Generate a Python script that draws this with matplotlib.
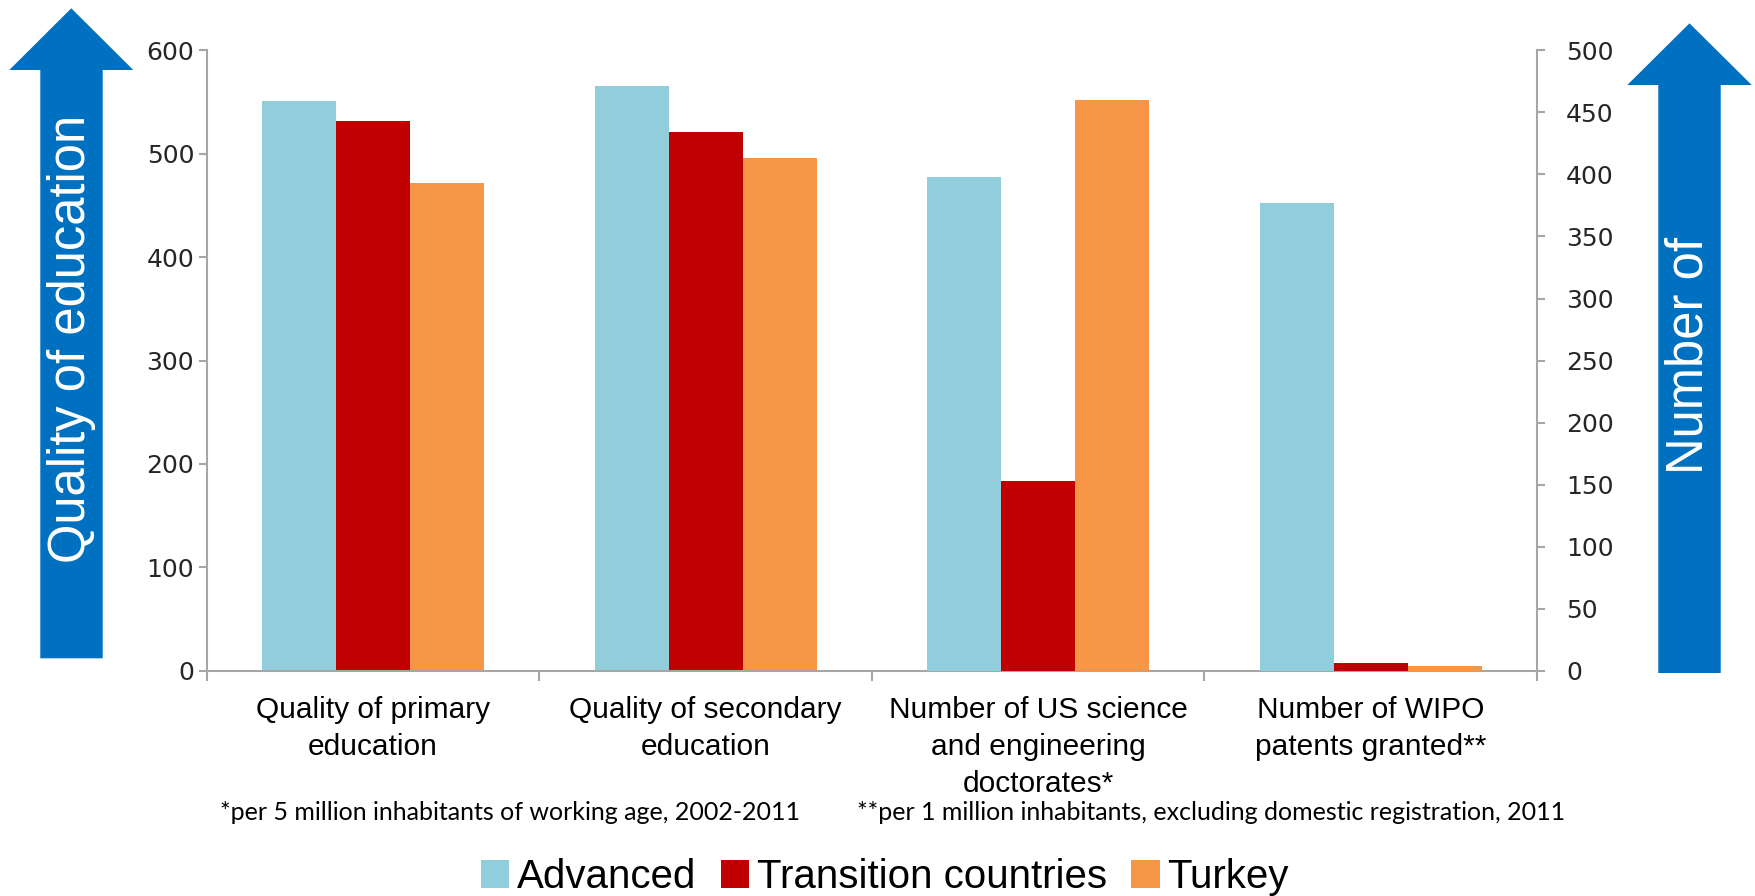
import matplotlib
matplotlib.use("Agg")
import matplotlib.pyplot as plt
from matplotlib.patches import Polygon, Patch
import numpy as np

# Indicator groups along the x axis
categories = [
    "Quality of primary\neducation",
    "Quality of secondary\neducation",
    "Number of US science\nand engineering\ndoctorates*",
    "Number of WIPO\npatents granted**",
]
series_names = ["Advanced", "Transition countries", "Turkey"]
advanced = [551, 566, 398, 377]
transition = [532, 521, 153, 6]
turkey = [472, 496, 460, 4]
# the last two indicators are read against the right-hand axis
use_right_axis = [False, False, True, True]

left_ticks = [0, 100, 200, 300, 400, 500, 600]
right_ticks = [0, 50, 100, 150, 200, 250, 300, 350, 400, 450, 500]

footnote_left = "*per 5 million inhabitants of working age, 2002-2011"
footnote_right = "**per 1 million inhabitants, excluding domestic registration, 2011"
left_arrow_text = "Quality of education"
right_arrow_text = "Number of"

colors = ["#92CDDC", "#C00000", "#F79646"]
arrow_color = "#0070C0"
spine_color = "#A6A6A6"
tick_text_color = "#262626"

W, H = 1756, 896
fig = plt.figure(figsize=(W / 100, H / 100), dpi=100)

ax_l, ax_r = 206.7, 1537.0
ax_b, ax_t = 670.7, 50.4
ax = fig.add_axes([ax_l / W, 1 - ax_b / H, (ax_r - ax_l) / W, (ax_b - ax_t) / H])
ax2 = ax.twinx()

sans = ["Liberation Sans", "DejaVu Sans"]

bw = 0.2225
offsets = [-bw, 0.0, bw]
all_series = [advanced, transition, turkey]
for i in range(len(categories)):
    target = ax2 if use_right_axis[i] else ax
    for s, (vals, off) in enumerate(zip(all_series, offsets)):
        target.bar(i + off, vals[i], width=bw, color=colors[s], linewidth=0)

ax.set_xlim(-0.5, len(categories) - 0.5)
ax.set_ylim(0, 600)
ax2.set_ylim(0, 500)
ax.set_yticks(left_ticks)
ax2.set_yticks(right_ticks)

for a in (ax, ax2):
    for sp in a.spines.values():
        sp.set_color(spine_color)
        sp.set_linewidth(1.5)
    a.spines["top"].set_visible(False)
ax.spines["right"].set_visible(False)
ax2.spines["left"].set_visible(False)
ax2.spines["bottom"].set_visible(False)

ax.tick_params(axis="y", direction="out", length=6, width=1.5, color=spine_color,
               labelsize=18, labelcolor=tick_text_color, pad=3)
ax2.tick_params(axis="y", direction="out", length=6, width=1.5, color=spine_color,
                labelsize=18, labelcolor=tick_text_color, pad=15)
for lab in ax.get_yticklabels() + ax2.get_yticklabels():
    lab.set_family("DejaVu Sans")

# category labels at group centres, tick marks at group boundaries
ax.set_xticks(np.arange(len(categories)))
ax.set_xticklabels(categories, fontsize=21.5, family=sans, linespacing=1.41, color="black")
ax.tick_params(axis="x", which="major", length=0, pad=18)
ax.set_xticks(np.arange(-0.5, len(categories)), minor=True)
ax.tick_params(axis="x", which="minor", direction="out", length=7, width=1.5, color=spine_color)

# footnotes
fig.text(220 / W, 1 - 812 / H, footnote_left, fontsize=18, family=["Lato", "DejaVu Sans"],
         ha="left", va="center", color="black")
fig.text(857 / W, 1 - 812 / H, footnote_right, fontsize=18, family=["Lato", "DejaVu Sans"],
         ha="left", va="center", color="black")

# legend
handles = [Patch(facecolor=c, edgecolor="none") for c in colors]
fig.legend(handles, series_names, loc="center", bbox_to_anchor=(885 / W, 1 - 877 / H),
           ncol=3, frameon=False, prop={"family": sans, "size": 29},
           handlelength=0.7, handleheight=0.7, handletextpad=0.2, columnspacing=0.6)

# big axis arrows
def up_arrow(x_head0, x_head1, x_sh0, x_sh1, y_tip, y_base, y_bottom):
    xc = (x_head0 + x_head1) / 2
    pts = [(x_sh0, y_bottom), (x_sh0, y_base), (x_head0, y_base), (xc, y_tip),
           (x_head1, y_base), (x_sh1, y_base), (x_sh1, y_bottom)]
    pts = [(x / W, 1 - y / H) for x, y in pts]
    fig.patches.append(Polygon(pts, closed=True, transform=fig.transFigure,
                               facecolor=arrow_color, edgecolor="none"))

up_arrow(9.3, 133.3, 40.3, 102.7, 8.3, 70.0, 658.3)
up_arrow(1627.3, 1751.7, 1658.3, 1720.7, 23.3, 85.0, 673.0)

fig.text(71.5 / W, 1 - 339 / H, left_arrow_text, rotation=90, color="white",
         fontsize=36.5, family=sans, ha="center", va="center")
fig.text(1689.5 / W, 1 - 355 / H, right_arrow_text, rotation=90, color="white",
         fontsize=36.5, family=sans, ha="center", va="center")

fig.savefig("out.png", dpi=100, facecolor="white")
